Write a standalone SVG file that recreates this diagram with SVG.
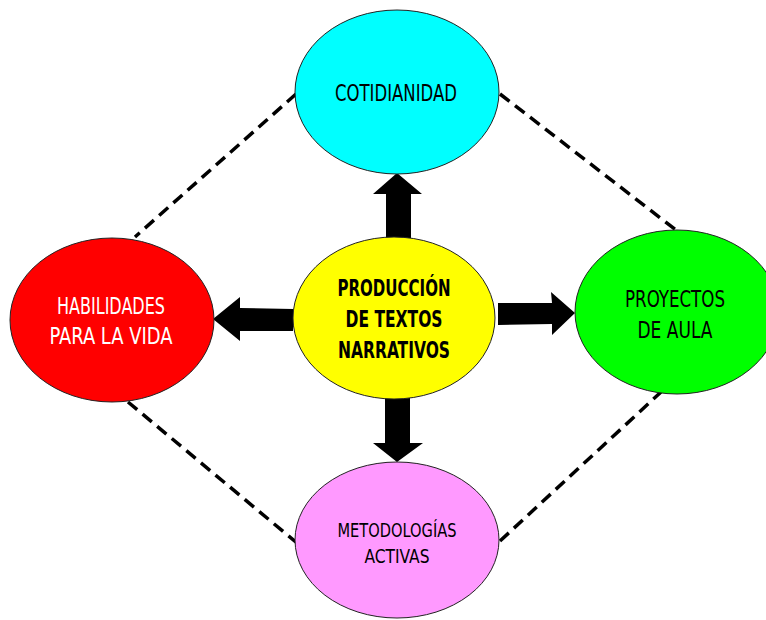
<svg xmlns="http://www.w3.org/2000/svg" width="766" height="620" viewBox="0 0 766 620">
<style>
.n{stroke:#222;stroke-width:1}
.t{font-family:"DejaVu Sans Condensed","Liberation Sans Narrow","Liberation Sans",sans-serif;text-anchor:middle;font-size:23px}
.s{font-size:19px}
.d{stroke:#000;stroke-width:3.5;stroke-dasharray:12,7;fill:none}
.a{fill:#000}
</style>
<rect width="766" height="620" fill="#fff"/>
<g id="connectors">
<line class="d" x1="296" y1="94" x2="135" y2="237"/>
<line class="d" x1="500" y1="94" x2="676" y2="230"/>
<line class="d" x1="128" y1="402" x2="297" y2="543"/>
<line class="d" x1="500" y1="541" x2="661" y2="392"/>
<polygon class="a" points="386,238 386,194 373,194 397,173 422,194 411,194 411,238"/>
<polygon class="a" points="385,398 385,443 373,443 397,462 423,443 410,443 410,398"/>
<polygon class="a" points="293,309 240,308 240,297 213,319 240,341 240,331 293,331"/>
<polygon class="a" points="498,303 552,303 551,292 575,313 552,335 552,324 498,325"/>
</g>
<g id="cotidianidad">
<ellipse class="n" cx="397" cy="92" rx="102" ry="82" fill="#00ffff"/>
<text class="t" x="396" y="101" textLength="122" lengthAdjust="spacingAndGlyphs">COTIDIANIDAD</text>
</g>
<g id="produccion">
<ellipse class="n" cx="394" cy="318" rx="101" ry="81" fill="#ffff00"/>
<text class="t" x="394" y="296" font-weight="bold" textLength="113" lengthAdjust="spacingAndGlyphs">PRODUCCIÓN</text>
<text class="t" x="394" y="327" font-weight="bold" textLength="97" lengthAdjust="spacingAndGlyphs">DE TEXTOS</text>
<text class="t" x="394" y="358" font-weight="bold" textLength="112" lengthAdjust="spacingAndGlyphs">NARRATIVOS</text>
</g>
<g id="habilidades">
<ellipse class="n" cx="112" cy="320" rx="102" ry="82" fill="#ff0000"/>
<text class="t" x="111" y="314" fill="#fff" textLength="108" lengthAdjust="spacingAndGlyphs">HABILIDADES</text>
<text class="t" x="111" y="344" fill="#fff" textLength="123" lengthAdjust="spacingAndGlyphs">PARA LA VIDA</text>
</g>
<g id="proyectos">
<ellipse class="n" cx="677" cy="312" rx="102" ry="82" fill="#00ff00"/>
<text class="t" x="675" y="307" textLength="100" lengthAdjust="spacingAndGlyphs">PROYECTOS</text>
<text class="t" x="675" y="338" textLength="75" lengthAdjust="spacingAndGlyphs">DE AULA</text>
</g>
<g id="metodologias">
<ellipse class="n" cx="397" cy="540" rx="102" ry="78" fill="#ff99ff"/>
<text class="t s" x="397" y="537" textLength="119" lengthAdjust="spacingAndGlyphs">METODOLOGÍAS</text>
<text class="t s" x="397" y="563" textLength="65" lengthAdjust="spacingAndGlyphs">ACTIVAS</text>
</g>
</svg>
